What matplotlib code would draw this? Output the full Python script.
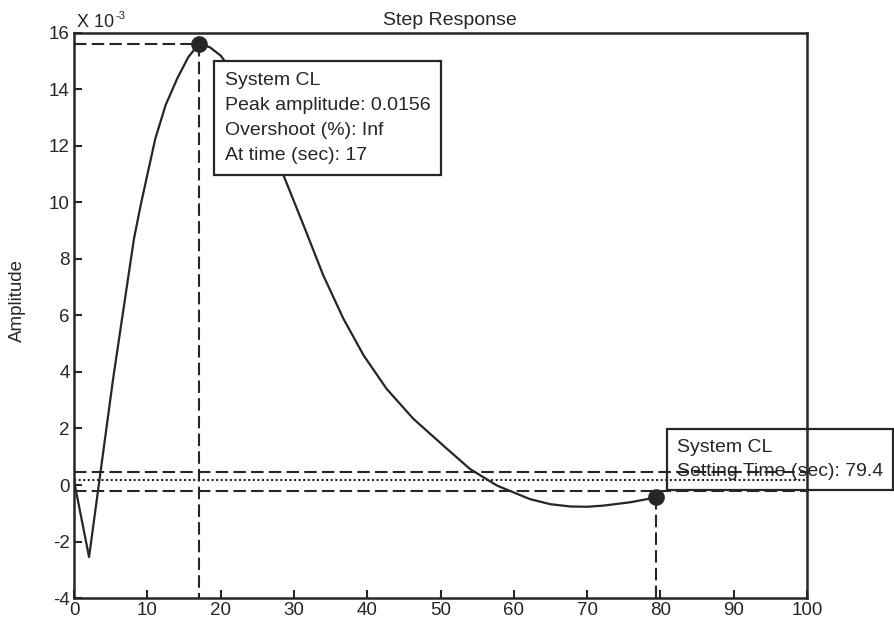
import matplotlib
matplotlib.use("Agg")
import matplotlib.pyplot as plt

plt.rcParams["font.family"] = ["Liberation Sans", "DejaVu Sans"]
plt.rcParams["axes.unicode_minus"] = False
ink = "#262626"

# step response of the closed loop (amplitude in units of 1e-3)
t = [0, 2.05, 5.3, 6.96, 8.18, 9.09, 10.1, 11.1, 12.5, 14.1, 15.6, 17,
     18.5, 20, 22, 24, 26, 28.56, 31.3, 34.0, 36.74, 39.5, 42.65, 46.3, 50.4,
     54.0, 57.7, 62.2, 65.0, 67.7, 70.0, 72.2, 75.9, 79.4]
amp = [0.15, -2.55, 3.7, 6.6, 8.72, 9.9, 11.1, 12.27, 13.45, 14.4, 15.15, 15.6,
       15.5, 15.2, 14.5, 13.6, 12.5, 10.97, 9.2, 7.42, 5.89, 4.59, 3.4, 2.34, 1.39,
       0.57, -0.02, -0.5, -0.68, -0.76, -0.77, -0.73, -0.61, -0.44]

peak_time = 17
peak_amp = 0.0156
settle_time = 79.4
settle_amp = -0.44
final_value = 0.19
band_hi = 0.45
band_lo = -0.2

fig = plt.figure(figsize=(8.94, 6.23), dpi=100)
ax = fig.add_axes([0.0828, 0.0401, 0.82, 0.907])

dash = dict(color=ink, lw=1.5, dashes=(6, 2.5))
ax.plot(t, amp, color=ink, lw=1.6, zorder=3)

# settling band and final value
ax.axhline(band_hi, **dash, zorder=2)
ax.axhline(band_lo, **dash, zorder=2)
ax.axhline(final_value, color=ink, lw=1.5, ls=(0, (1, 1.2)), zorder=2)

# peak marker and guides
pk = peak_amp * 1e3
ax.plot([0, peak_time], [pk, pk], **dash, zorder=2)
ax.plot([peak_time, peak_time], [pk, -4], **dash, zorder=2)
ax.plot(peak_time, pk, "o", color=ink, ms=11, zorder=5)

# settling marker and guide
ax.plot([settle_time, settle_time], [settle_amp, -4], **dash, zorder=2)
ax.plot(settle_time, settle_amp, "o", color=ink, ms=11, zorder=5)

ax.annotate("System CL\nPeak amplitude: %.4f\nOvershoot (%%): Inf\nAt time (sec): %g"
            % (peak_amp, peak_time),
            xy=(peak_time, pk), xytext=(19, -20), textcoords="offset points",
            ha="left", va="top", fontsize=14, color=ink, linespacing=1.62,
            bbox=dict(boxstyle="square,pad=0.55", fc="white", ec=ink, lw=1.6),
            zorder=4)
ax.annotate("System CL\nSetting Time (sec): %g" % settle_time,
            xy=(settle_time, settle_amp), xytext=(15, 42), textcoords="offset points",
            ha="left", va="top", fontsize=14, color=ink, linespacing=1.55,
            bbox=dict(boxstyle="square,pad=0.5", fc="none", ec=ink, lw=1.6),
            zorder=1, annotation_clip=False)

ax.set_xlim(0, 100)
ax.set_ylim(-4, 16)
ax.set_xticks(range(0, 101, 10))
ax.set_yticks(range(-4, 17, 2))
ax.tick_params(direction="in", length=6, width=1.5, colors=ink, labelsize=13.5,
               pad=3, top=False, right=False)
for s in ax.spines.values():
    s.set_linewidth(1.8)
    s.set_color(ink)

ax.set_title("Step Response", fontsize=14, color=ink, pad=6, x=0.513)
ax.text(0.004, 1.0106, "X 10", transform=ax.transAxes,
        fontsize=13, color=ink, ha="left", va="baseline")
ax.text(0.056, 1.025, "-3", transform=ax.transAxes,
        fontsize=8, color=ink, ha="left", va="baseline")
ax.set_ylabel("Amplitude", fontsize=13.5, color=ink)
ax.yaxis.set_label_coords(-0.066, 0.527)

fig.savefig("out.png", dpi=100)
